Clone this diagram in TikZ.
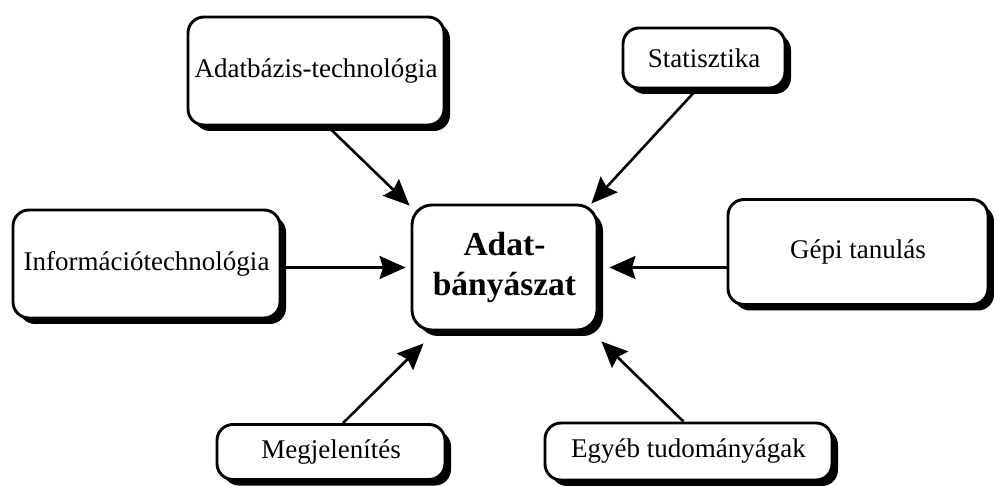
\documentclass[tikz,border=0pt]{standalone}
\usepackage{fontspec}
\setmainfont{Liberation Serif}
\usetikzlibrary{arrows.meta,shadows}
\begin{document}
\begin{tikzpicture}[x=1pt,y=-1pt,
  field/.style={draw=black, line width=2.9pt, fill=white, rounded corners=16pt, inner sep=0pt,
    drop shadow={shadow xshift=6pt, shadow yshift=-6pt, opacity=1, fill=black},
    font=\fontsize{27}{30}\selectfont},
  core/.style={field, rounded corners=20pt, align=center,
    font=\bfseries\fontsize{33.5}{40}\selectfont},
  feed/.style={line width=2.6pt, -{Stealth[length=26pt,width=23pt,inset=3.5pt]}}]
\useasboundingbox (0,0) rectangle (994,486);

% central topic
\node[core, minimum width=185pt, minimum height=125pt] (core) at (504.5,267.5) {Adat-\\bányászat};

% contributing fields
\node[field, minimum width=256pt, minimum height=108pt] (db)   at (316,71)    {Adatbázis-technológia};
\node[field, minimum width=162pt, minimum height=60pt]  (stat) at (704,58)    {Statisztika};
\node[field, minimum width=267pt, minimum height=108pt] (info) at (146.5,264) {Információtechnológia};
\node[field, minimum width=260pt, minimum height=105pt] (ml)   at (858,252)   {Gépi tanulás};
\node[field, minimum width=228pt, minimum height=55pt]  (vis)  at (331,452)   {Megjelenítés};
\node[field, minimum width=287pt, minimum height=57pt]  (oth)  at (688.5,451.5) {Egyéb tudományágak};

% arrows into the centre
\draw[feed] ([xshift=16pt,yshift=-4pt]db.south) -- ([xshift=-1pt,yshift=-2pt]core.north west);
\draw[feed] ([xshift=-11pt,yshift=-4pt]stat.south) -- ([xshift=-7pt]core.north east);
\draw[feed] (info.east |- core.west) -- ([xshift=-5pt]core.west);
\draw[feed] (ml.west |- core.east) -- ([xshift=11pt]core.east);
\draw[feed] ([xshift=12pt]vis.north) -- ([xshift=13pt,yshift=-12pt]core.south west);
\draw[feed] ([xshift=-5pt]oth.north) -- ([xshift=3pt,yshift=-10pt]core.south east);
\end{tikzpicture}
\end{document}
